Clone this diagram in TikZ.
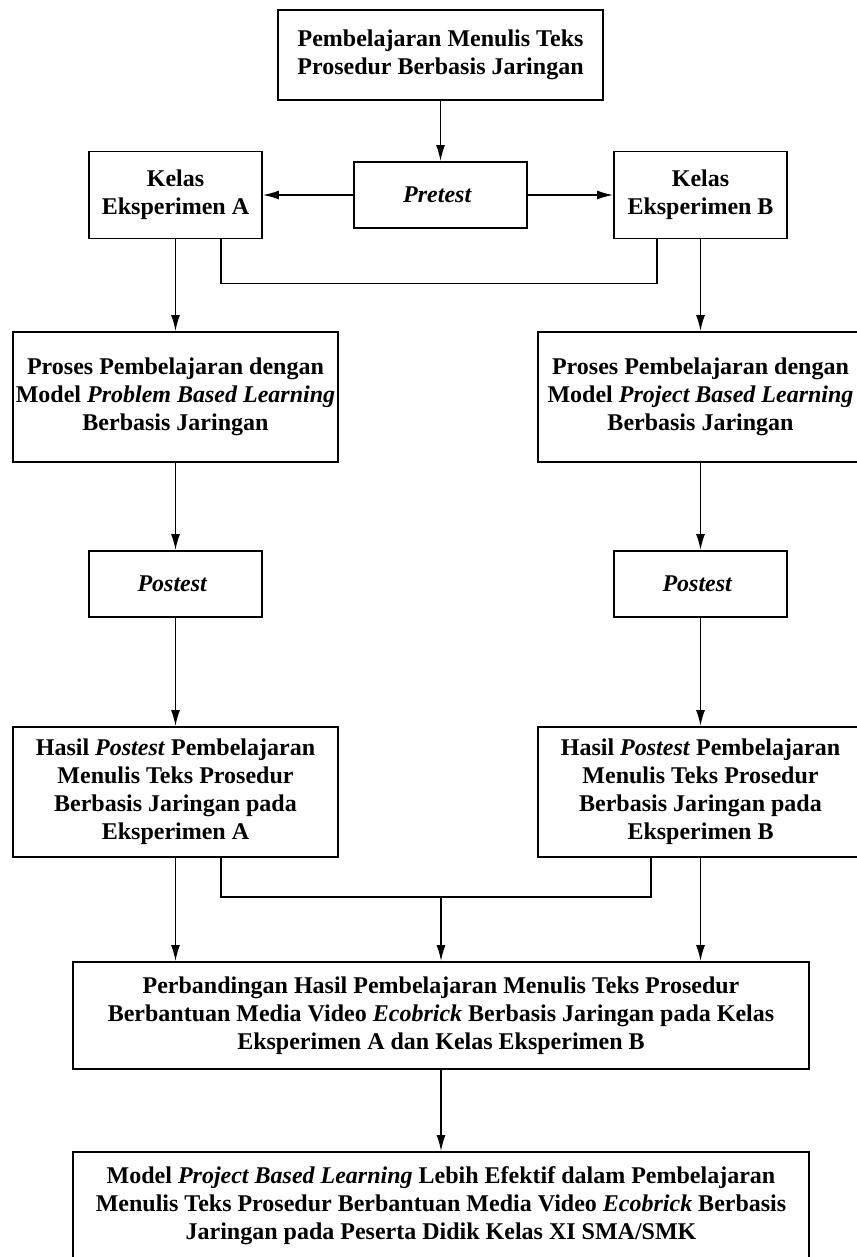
\documentclass[tikz,border=0pt]{standalone}
\usepackage{fontspec}
\setmainfont{Liberation Serif}
\usetikzlibrary{arrows.meta, calc, positioning}
\tikzset{kotak/.style={draw, line width=0.95pt, align=center, inner sep=0pt, font=\fontsize{12}{14}\selectfont\bfseries}}
\tikzset{kotaklebar/.style={kotak, minimum width=162.5pt, minimum height=65pt}}
\tikzset{kotakkecil/.style={kotak, minimum width=86.5pt, minimum height=33pt}}
\tikzset{kotakpanjang/.style={kotak, minimum width=368pt, minimum height=53.5pt}}
\tikzset{garis/.style={line width=0.75pt}}
\tikzset{panah/.style={line width=0.75pt, -{Latex[length=8pt, width=4.5pt]}}}

\begin{document}
\begin{tikzpicture}[x=0.5pt, y=-0.5pt]
        \useasboundingbox (0, 0) rectangle (856, 1257);

        \node [kotak, minimum width=162.5pt, minimum height=45pt] (Judul) at (440.5, 55) { Pembelajaran Menulis Teks\\Prosedur Berbasis Jaringan };
        \node [kotakkecil] (Pre) at (440.5, 195) { \textit{Pretest} };
        \node [kotakkecil, minimum height=43.5pt] (KA) at (175.5, 195) { Kelas\\Eksperimen A };
        \node [kotakkecil, minimum height=43.5pt] (KB) at (700.5, 195) { Kelas\\Eksperimen B };

        \node [kotaklebar] (PA) at (175.5, 397) { Proses Pembelajaran dengan\\Model \textit{Problem Based Learning}\\Berbasis Jaringan };
        \node [kotaklebar] (PB) at (700.5, 397) { Proses Pembelajaran dengan\\Model \textit{Project Based Learning}\\Berbasis Jaringan };

        \node [kotakkecil] (PostA) at (175.5, 584) { \textit{Postest} };
        \node [kotakkecil] (PostB) at (700.5, 584) { \textit{Postest} };

        \node [kotaklebar] (HA) at (175.5, 792) { Hasil \textit{Postest} Pembelajaran\\Menulis Teks Prosedur\\Berbasis Jaringan pada\\Eksperimen A };
        \node [kotaklebar] (HB) at (700.5, 792) { Hasil \textit{Postest} Pembelajaran\\Menulis Teks Prosedur\\Berbasis Jaringan pada\\Eksperimen B };

        \node [kotakpanjang] (Banding) at (441, 1015.5) { Perbandingan Hasil Pembelajaran Menulis Teks Prosedur\\Berbantuan Media Video \textit{Ecobrick} Berbasis Jaringan pada Kelas\\Eksperimen A dan Kelas Eksperimen B };
        \node [kotakpanjang, minimum height=54pt] (Akhir) at (441, 1206) { Model \textit{Project Based Learning} Lebih Efektif dalam Pembelajaran\\Menulis Teks Prosedur Berbantuan Media Video \textit{Ecobrick} Berbasis\\Jaringan pada Peserta Didik Kelas XI SMA/SMK };

        \coordinate (Tengah) at (441, 896);

        \draw [panah] (Judul) -- (Pre);
        \draw [panah] (Pre.west) -- (Pre.west -| KA.east);
        \draw [panah] (Pre.east) -- (Pre.east -| KB.west);
        \draw [panah] (KA) -- (PA);
        \draw [panah] (KB) -- (PB);
        \draw [garis] ([xshift=22.75pt]KA.south) -- ++(0, 44) -| ([xshift=-21.75pt]KB.south);

        \draw [panah] (PA) -- (PostA);
        \draw [panah] (PB) -- (PostB);
        \draw [panah] (PostA) -- (HA);
        \draw [panah] (PostB) -- (HB);

        \draw [panah] (HA.south) -- (HA.south |- Banding.north);
        \draw [panah] (HB.south) -- (HB.south |- Banding.north);
        \draw [garis] ([xshift=22.75pt]HA.south) -- ++(0, 39) -| ([xshift=-24.75pt]HB.south);
        \draw [panah] (Tengah) -- (Banding.north);
        \draw [panah] (Banding) -- (Akhir);
    \end{tikzpicture}
\end{document}
